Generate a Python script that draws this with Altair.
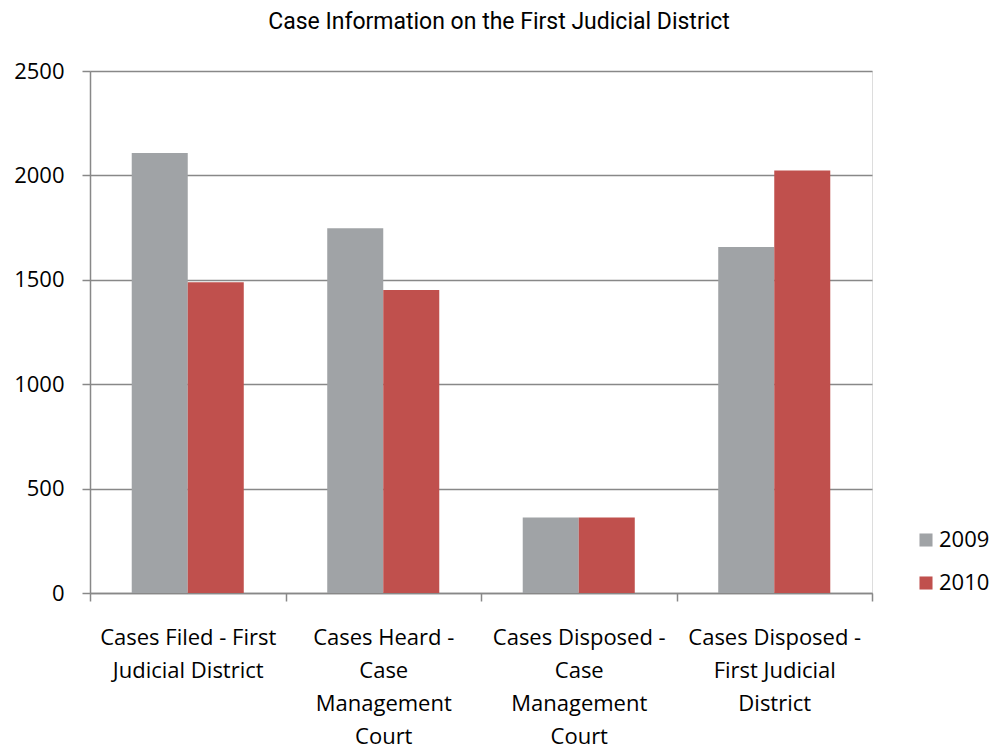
import altair as alt
import pandas as pd

categories = [
    "Cases Filed - First Judicial District",
    "Cases Heard - Case Management Court",
    "Cases Disposed - Case Management Court",
    "Cases Disposed - First Judicial District",
]
label_lines = [
    ["Cases Filed -  First", "Judicial District"],
    ["Cases Heard -", "Case", "Management", "Court"],
    ["Cases Disposed -", "Case", "Management", "Court"],
    ["Cases Disposed -", "First Judicial", "District"],
]
years = ["2009", "2010"]
values_2009 = [2107, 1747, 362, 1657]
values_2010 = [1488, 1451, 362, 2024]

rows = []
for c, v9, v10 in zip(categories, values_2009, values_2010):
    rows.append({"category": c, "year": "2009", "value": v9})
    rows.append({"category": c, "year": "2010", "value": v10})
df = pd.DataFrame(rows)

label_expr = " : ".join(
    f"datum.value == '{c}' ? {lines!r}" for c, lines in zip(categories, label_lines)
) + " : datum.label"

FONT = "Open Sans"
FS = 22
AX = "#888888"

chart = alt.Chart(df).mark_bar().encode(
    x=alt.X("category:N", sort=categories,
            scale=alt.Scale(paddingInner=0, paddingOuter=0),
            axis=alt.Axis(title=None, labelAngle=0, labelExpr=label_expr,
                          tickBand="extent", tickSize=8, labelPadding=26, labelLimit=300,
                          labelLineHeight=33, labelFontSize=FS, labelFont=FONT,
                          labelColor="#000", domainColor=AX, tickColor=AX,
                          domainWidth=1.5, tickWidth=1.5, labelBaseline="top")),
    xOffset=alt.XOffset("year:N", sort=years,
                        scale=alt.Scale(paddingInner=0, paddingOuter=0.745)),
    y=alt.Y("value:Q", scale=alt.Scale(domain=[0, 2500]),
            axis=alt.Axis(title=None, values=[0, 500, 1000, 1500, 2000, 2500], format="d",
                          tickSize=8, labelPadding=18, labelFontSize=FS, labelFont=FONT,
                          labelColor="#000", domainColor=AX, tickColor=AX,
                          gridColor=AX, gridWidth=1.5, domainWidth=1.5, tickWidth=1.5)),
    color=alt.Color("year:N", sort=years,
                    scale=alt.Scale(domain=years, range=["#a0a3a6", "#c0504d"]),
                    legend=alt.Legend(title=None, orient="none", legendX=825, legendY=458,
                                      symbolType="square", symbolSize=170,
                                      labelFontSize=FS, labelFont=FONT, labelColor="#000",
                                      rowPadding=21, labelOffset=2, symbolStrokeWidth=0)),
).properties(
    width=782, height=522,
    title=alt.TitleParams("Case Information on the First Judicial District",
                          font="Roboto", fontSize=23, fontWeight="normal",
                          anchor="middle", offset=26, dx=18, color="#000"),
    padding={"left": 82, "top": 63, "right": 122, "bottom": 160},
    autosize=alt.AutoSizeParams(type="none"),
).configure_view(stroke=None).configure(background="white")

chart.save("out.html", embed_options={"renderer": "svg", "actions": False})
